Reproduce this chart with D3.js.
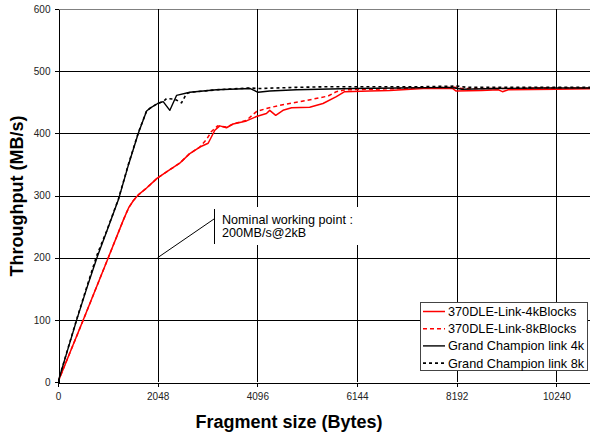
<!DOCTYPE html>
<html>
<head>
<meta charset="utf-8">
<script src="https://cdn.jsdelivr.net/npm/d3@7"></script>
<style>
  html, body { margin: 0; padding: 0; background: #fff; }
  svg { display: block; font-family: "Liberation Sans", Arial, sans-serif; }
</style>
</head>
<body>
<svg id="chart" width="590" height="439"></svg>
<script>
// ---- data (fragment size in bytes, throughput in MB/s) ----
const xTicks = [0, 2048, 4096, 6144, 8192, 10240];
const yTicks = [0, 100, 200, 300, 400, 500, 600];
const seriesNames = ["370DLE-Link-4kBlocks", "370DLE-Link-8kBlocks", "Grand Champion link 4k", "Grand Champion link 8k"];

const dle4kX = [0, 520, 1033, 1350, 1450, 1550, 1650, 1820, 2040, 2230, 2500, 2700, 2914, 3085, 3222, 3324, 3461, 3598, 3872, 4077, 4282, 4350, 4473, 4623, 4800, 5171, 5444, 5719, 5889, 6400, 6813, 7500, 8111, 8181, 8700, 9050, 9132, 9250, 10233, 11000];
const dle4kY = [0, 100, 200, 262, 280, 292, 301, 312, 328, 338, 352, 367, 378, 384, 405, 412, 409, 415, 420, 427, 432, 437, 429, 437, 441, 442, 448, 459, 467, 468, 469, 472, 472, 468, 469, 470, 467, 470, 471, 472];

const dle8kX = [0, 520, 1033, 1350, 1450, 1550, 1650, 1820, 2040, 2230, 2500, 2700, 2914, 3050, 3153, 3280, 3461, 3598, 3872, 4077, 4282, 4555, 5239, 5550, 5719, 5900, 6500, 7500, 8150, 8300, 9000, 10000, 11000];
const dle8kY = [0, 100, 200, 262, 280, 292, 301, 312, 328, 338, 352, 367, 378, 390, 403, 412, 410, 415, 421, 435, 440, 445, 455, 460, 467, 470, 471, 473, 474, 472, 472, 473, 473];

const gc4kX = [0, 200, 400, 600, 800, 1000, 1240, 1450, 1650, 1820, 1900, 2048, 2161, 2298, 2435, 2709, 3256, 3950, 4110, 4350, 4898, 6053, 7000, 8000, 8150, 8300, 9000, 10000, 11000];
const gc4kY = [0, 52, 104, 153, 200, 242, 293, 350, 400, 436, 441, 448, 451, 437, 461, 466, 470, 472, 466, 468, 470, 472, 473, 474, 473, 471, 472, 473, 473];

const gc8kX = [0, 200, 400, 600, 790, 850, 1000, 1240, 1450, 1650, 1820, 1900, 2048, 2161, 2230, 2400, 2538, 2640, 2709, 3256, 3950, 4110, 4898, 5582, 6500, 7500, 8192, 8400, 9000, 10000, 11000];
const gc8kY = [0, 53, 105, 155, 202, 214, 243, 294, 351, 401, 436, 441, 448, 451, 456, 455, 449, 464, 466, 470, 473, 472, 474, 475, 475, 475, 476, 474, 474, 474, 474];

(function () {
// ---- layout ----
const svg = d3.select("#chart");
const W = 590, H = 439;
const pL = 58, pR = 590, pT = 9, pB = 382;

const x = d3.scaleLinear().domain([0, 10930]).range([pL, pR]);
const y = d3.scaleLinear().domain([0, 600]).range([pB, pT]);

svg.append("rect").attr("width", W).attr("height", H).attr("fill", "#fff");

svg.append("defs").append("clipPath").attr("id", "plotclip")
  .append("rect").attr("x", pL).attr("y", pT).attr("width", pR - pL).attr("height", pB - pT);

// gridlines
const grid = svg.append("g").attr("shape-rendering", "crispEdges");
grid.selectAll("line.h").data(yTicks.filter(d => d > 0)).join("line")
  .attr("x1", pL).attr("x2", pR)
  .attr("y1", d => Math.round(y(d)) + 0.5).attr("y2", d => Math.round(y(d)) + 0.5)
  .attr("stroke", d => d === 600 ? "#808080" : "#000").attr("stroke-width", 1);
grid.selectAll("line.v").data(xTicks.filter(d => d > 0)).join("line")
  .attr("y1", pT).attr("y2", pB)
  .attr("x1", d => Math.round(x(d)) + 0.5).attr("x2", d => Math.round(x(d)) + 0.5)
  .attr("stroke", "#000").attr("stroke-width", 1);

// annotation box (white, hides grid)
const annX = 214, annY = 207;
svg.append("rect").attr("x", annX).attr("y", annY).attr("width", 148).attr("height", 38).attr("fill", "#fff");

// series lines
const lineGen = d3.line().x(d => x(d[0])).y(d => y(d[1]));
const zip = (xs, ys) => xs.map((v, i) => [v, ys[i]]);
const series = [
  { name: seriesNames[0], data: zip(dle4kX, dle4kY), color: "#ff0000", dash: null, w: 1.5 },
  { name: seriesNames[1], data: zip(dle8kX, dle8kY), color: "#ff0000", dash: "4,3", w: 1.5 },
  { name: seriesNames[2], data: zip(gc4kX, gc4kY), color: "#000000", dash: null, w: 1.4 },
  { name: seriesNames[3], data: zip(gc8kX, gc8kY), color: "#000000", dash: "3,3", w: 1.6 }
];
const lines = svg.append("g").attr("clip-path", "url(#plotclip)");
series.forEach(s => {
  lines.append("path").attr("d", lineGen(s.data))
    .attr("fill", "none").attr("stroke", s.color).attr("stroke-width", s.w)
    .attr("stroke-dasharray", s.dash).attr("stroke-linejoin", "round");
});

// axes
const xAxis = d3.axisBottom(x).tickValues(xTicks).tickSize(4).tickSizeOuter(0).tickFormat(d3.format("d"));
const yAxis = d3.axisLeft(y).tickValues(yTicks).tickSize(4).tickSizeOuter(0).tickFormat(d3.format("d"));
const gx = svg.append("g").attr("transform", `translate(0,${pB + 0.5})`).call(xAxis);
const gy = svg.append("g").attr("transform", `translate(${pL + 0.5},0)`).call(yAxis);
[gx, gy].forEach(g => {
  g.selectAll("path, line").attr("stroke", "#000").attr("shape-rendering", "crispEdges");
  g.selectAll("text").attr("font-family", "Liberation Sans, Arial, sans-serif").attr("font-size", 10).attr("fill", "#222");
});
gx.selectAll("text").attr("dy", "0").attr("y", 17);
gy.selectAll("text").attr("x", -8);

// axis titles
svg.append("text").attr("x", 289).attr("y", 428).attr("text-anchor", "middle")
  .attr("font-size", 18).attr("font-weight", "bold").attr("fill", "#000")
  .text("Fragment size (Bytes)");
svg.append("text").attr("transform", "translate(23,196) rotate(-90)").attr("text-anchor", "middle")
  .attr("font-size", 18).attr("font-weight", "bold").attr("fill", "#000")
  .text("Throughput (MB/s)");

// annotation
svg.append("line").attr("x1", x(2048)).attr("y1", y(200)).attr("x2", annX).attr("y2", 219)
  .attr("stroke", "#000").attr("stroke-width", 1);
svg.append("line").attr("x1", annX + 0.5).attr("x2", annX + 0.5).attr("y1", 209).attr("y2", 244)
  .attr("stroke", "#000").attr("stroke-width", 1).attr("shape-rendering", "crispEdges");
const ann = svg.append("text").attr("font-size", 12.6).attr("fill", "#000");
ann.append("tspan").attr("x", 222).attr("y", 223.5).text("Nominal working point :");
ann.append("tspan").attr("x", 222).attr("y", 237).text("200MB/s@2kB");

// legend
const lg = svg.append("g");
lg.append("rect").attr("x", 420.5).attr("y", 302.5).attr("width", 167).attr("height", 68)
  .attr("fill", "#fff").attr("stroke", "#444").attr("stroke-width", 1).attr("shape-rendering", "crispEdges");
series.forEach((s, i) => {
  const cy = 311.5 + i * 17.2;
  lg.append("line").attr("x1", 423).attr("x2", 445).attr("y1", cy).attr("y2", cy)
    .attr("stroke", s.color).attr("stroke-width", s.w).attr("stroke-dasharray", s.dash);
  lg.append("text").attr("x", 448).attr("y", cy).attr("dy", "0.36em")
    .attr("font-size", 12.7).attr("fill", "#000").text(s.name);
});
})();
</script>
</body>
</html>
